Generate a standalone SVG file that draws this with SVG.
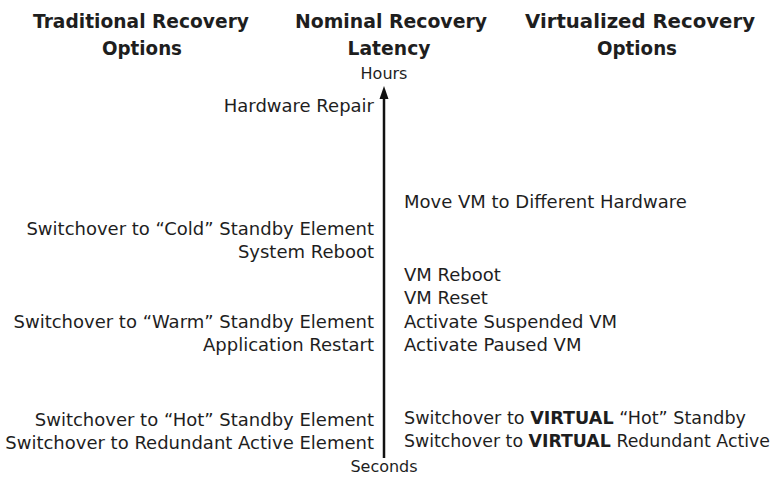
<svg xmlns="http://www.w3.org/2000/svg" width="775" height="479" viewBox="0 0 775 479">
<style>
text{font-family:"DejaVu Sans","Verdana",sans-serif;fill:#1e1e1e}
.h{font-size:20px;font-weight:bold;text-anchor:middle}
.l{font-size:18px;text-anchor:end}
.r{font-size:18px;text-anchor:start}
.v{font-size:17.2px}
.a{font-size:16px;text-anchor:middle}
.b{font-weight:bold}
</style>
<rect width="775" height="479" fill="#fff"/>
<g id="headers">
<text class="h" x="141" y="28" textLength="216" lengthAdjust="spacingAndGlyphs">Traditional Recovery</text>
<text class="h" x="142" y="55" textLength="80" lengthAdjust="spacingAndGlyphs">Options</text>
<text class="h" x="391" y="28" textLength="192" lengthAdjust="spacingAndGlyphs">Nominal Recovery</text>
<text class="h" x="389" y="55" textLength="83" lengthAdjust="spacingAndGlyphs">Latency</text>
<text class="h" x="640" y="28" textLength="230" lengthAdjust="spacingAndGlyphs">Virtualized Recovery</text>
<text class="h" x="637" y="55" textLength="80" lengthAdjust="spacingAndGlyphs">Options</text>
</g>
<g id="axis">
<text class="a" x="384" y="79">Hours</text>
<line x1="384" y1="96" x2="384" y2="458" stroke="#111" stroke-width="2.5"/>
<polygon points="384,86 379.5,99 388.5,99" fill="#111"/>
<text class="a" x="384" y="472">Seconds</text>
</g>
<g id="traditional">
<text class="l" x="374" y="112">Hardware Repair</text>
<text class="l" x="374" y="235">Switchover to “Cold” Standby Element</text>
<text class="l" x="374" y="258">System Reboot</text>
<text class="l" x="374" y="328">Switchover to “Warm” Standby Element</text>
<text class="l" x="374" y="351">Application Restart</text>
<text class="l" x="374" y="426">Switchover to “Hot” Standby Element</text>
<text class="l" x="374" y="449">Switchover to Redundant Active Element</text>
</g>
<g id="virtualized">
<text class="r" x="404" y="208">Move VM to Different Hardware</text>
<text class="r" x="404" y="281">VM Reboot</text>
<text class="r" x="404" y="304">VM Reset</text>
<text class="r" x="404" y="328">Activate Suspended VM</text>
<text class="r" x="404" y="351">Activate Paused VM</text>
<text class="r v" x="404" y="424" textLength="342" lengthAdjust="spacingAndGlyphs">Switchover to <tspan class="b">VIRTUAL</tspan> “Hot” Standby</text>
<text class="r v" x="404" y="447" textLength="366" lengthAdjust="spacingAndGlyphs">Switchover to <tspan class="b">VIRTUAL</tspan> Redundant Active</text>
</g>
</svg>
